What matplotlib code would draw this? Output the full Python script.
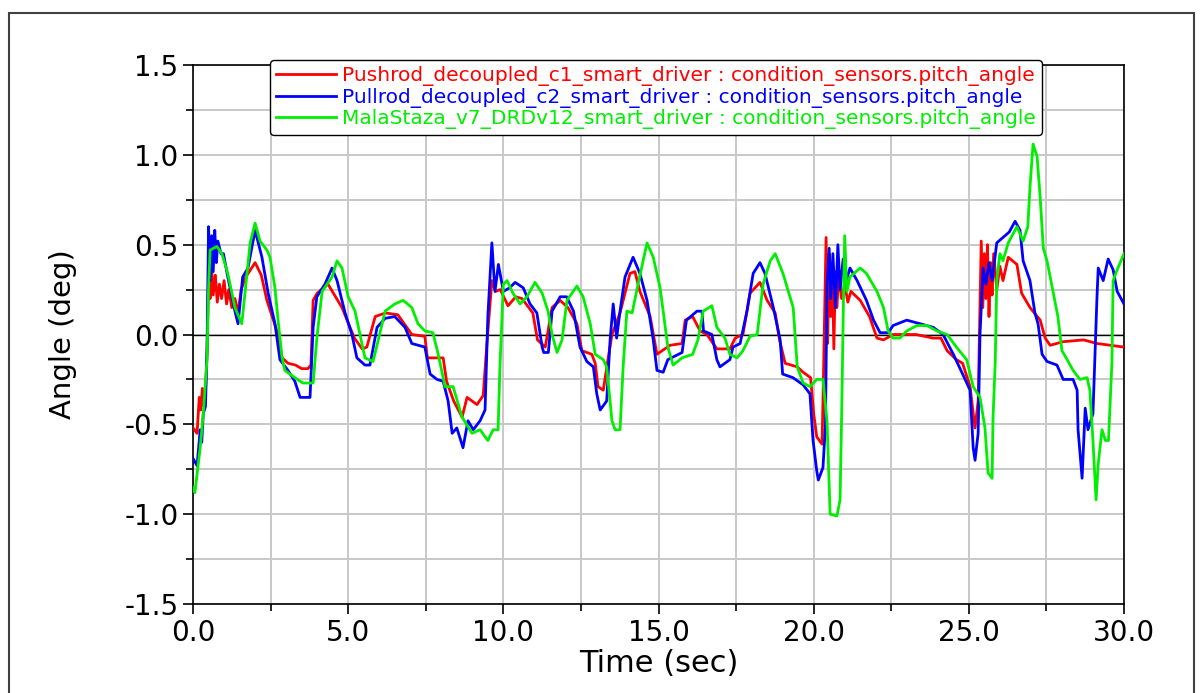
import numpy as np
import matplotlib
matplotlib.use('Agg')
import matplotlib.pyplot as plt
from matplotlib.patches import Rectangle
from matplotlib.ticker import MultipleLocator, FormatStrFormatter

plt.rcParams['font.family'] = ['DejaVu Sans']

# (time, angle)
red_pts = [(0, -0.52), (0.13, -0.55), (0.2, -0.35), (0.25, -0.42), (0.3, -0.3), (0.35, -0.4),
           (0.4, -0.32), (0.45, -0.1), (0.5, 0.3), (0.55, 0.2), (0.6, 0.37), (0.65, 0.22),
           (0.72, 0.33), (0.78, 0.18), (0.85, 0.28), (0.92, 0.2), (1.0, 0.3), (1.08, 0.17),
           (1.15, 0.25), (1.25, 0.15), (1.35, 0.2), (1.45, 0.12), (1.55, 0.25), (1.7, 0.32),
           (1.85, 0.36), (2.0, 0.40), (2.2, 0.33), (2.38, 0.19), (2.55, 0.1), (2.74, 0.0),
           (2.87, -0.13), (3.06, -0.16), (3.3, -0.17), (3.5, -0.19), (3.7, -0.19), (3.8, -0.17),
           (3.87, 0.19), (4.0, 0.23), (4.35, 0.28), (4.8, 0.15), (5.2, -0.02), (5.45, -0.08),
           (5.6, -0.07), (5.87, 0.1), (6.2, 0.12), (6.6, 0.11), (7.05, 0.0), (7.47, -0.01),
           (7.55, -0.13), (8.06, -0.13), (8.17, -0.26), (8.4, -0.37), (8.67, -0.46), (8.83, -0.35),
           (9.15, -0.39), (9.35, -0.34), (9.47, -0.05), (9.63, 0.30), (9.75, 0.24), (9.9, 0.25),
           (10.15, 0.16), (10.4, 0.21), (10.6, 0.2), (10.95, 0.12), (11.1, -0.03), (11.35, -0.07),
           (11.57, 0.15), (11.83, 0.19), (12.08, 0.15), (12.37, 0.06), (12.53, -0.09), (12.85, -0.11),
           (12.96, -0.16), (13.05, -0.29), (13.22, -0.31), (13.37, -0.14), (13.5, 0.0), (13.76, 0.12),
           (14.08, 0.34), (14.24, 0.35), (14.4, 0.24), (14.73, 0.1), (14.95, -0.11), (15.37, -0.06),
           (15.76, -0.05), (15.86, 0.08), (16.1, 0.10), (16.34, 0.02), (16.56, 0.0), (16.88, -0.08),
           (17.3, -0.08), (17.47, -0.02), (17.72, 0.0), (17.95, 0.23), (18.27, 0.29), (18.5, 0.19),
           (18.76, 0.12), (18.9, -0.03), (19.08, -0.16), (19.47, -0.18), (19.66, -0.21), (19.9, -0.24),
           (20.0, -0.44), (20.1, -0.57), (20.27, -0.61), (20.3, -0.37), (20.4, 0.54), (20.45, -0.05),
           (20.5, 0.45), (20.55, 0.1), (20.6, 0.4), (20.65, -0.08), (20.7, 0.35), (20.75, 0.15),
           (20.8, 0.33), (20.9, 0.2), (21.0, 0.28), (21.1, 0.18), (21.2, 0.24), (21.5, 0.19),
           (21.8, 0.1), (22.04, -0.02), (22.25, -0.03), (22.56, 0.0), (23.3, 0.0), (23.85, -0.02),
           (24.1, -0.02), (24.3, -0.09), (24.6, -0.14), (24.8, -0.16), (25.04, -0.29), (25.14, -0.44),
           (25.2, -0.52), (25.3, -0.37), (25.4, 0.52), (25.45, 0.15), (25.5, 0.45), (25.55, 0.2),
           (25.6, 0.5), (25.65, 0.1), (25.7, 0.4), (25.75, 0.22), (25.8, 0.45), (25.9, 0.25),
           (26.0, 0.38), (26.1, 0.3), (26.27, 0.43), (26.55, 0.39), (26.7, 0.23), (26.97, 0.15),
           (27.3, 0.08), (27.46, -0.02), (27.62, -0.06), (28.04, -0.04), (28.7, -0.03), (29.13, -0.05),
           (30.0, -0.07)]

blue_pts = [(0, -0.69), (0.13, -0.73), (0.23, -0.53), (0.28, -0.6), (0.33, -0.44), (0.4, -0.4),
            (0.45, -0.09), (0.5, 0.6), (0.55, 0.3), (0.6, 0.55), (0.65, 0.35), (0.7, 0.58),
            (0.75, 0.4), (0.8, 0.52), (0.9, 0.45), (0.98, 0.45), (1.12, 0.32), (1.35, 0.13),
            (1.45, 0.06), (1.6, 0.32), (1.77, 0.37), (2.0, 0.58), (2.22, 0.43), (2.42, 0.23),
            (2.64, 0.06), (2.8, -0.14), (3.06, -0.2), (3.28, -0.26), (3.45, -0.35), (3.77, -0.35),
            (3.87, 0.04), (3.99, 0.21), (4.25, 0.28), (4.48, 0.37), (4.64, 0.3), (4.9, 0.12),
            (5.12, 0.0), (5.28, -0.13), (5.54, -0.17), (5.7, -0.17), (5.93, 0.04), (6.19, 0.09),
            (6.5, 0.1), (6.83, 0.04), (7.05, -0.05), (7.47, -0.07), (7.64, -0.22), (7.86, -0.25),
            (8.06, -0.26), (8.22, -0.37), (8.35, -0.55), (8.5, -0.52), (8.7, -0.63), (8.86, -0.48),
            (9.03, -0.53), (9.25, -0.48), (9.41, -0.42), (9.5, 0.1), (9.63, 0.51), (9.73, 0.24),
            (9.84, 0.39), (10.0, 0.24), (10.2, 0.26), (10.38, 0.29), (10.64, 0.26), (10.86, 0.17),
            (11.08, 0.12), (11.25, -0.07), (11.3, -0.1), (11.45, -0.1), (11.57, 0.13), (11.83, 0.21),
            (12.04, 0.21), (12.26, 0.13), (12.47, -0.07), (12.69, -0.15), (12.9, -0.18), (13.01, -0.33),
            (13.12, -0.42), (13.33, -0.37), (13.44, -0.03), (13.54, 0.17), (13.65, -0.02), (13.76, 0.13),
            (13.92, 0.32), (14.18, 0.43), (14.4, 0.34), (14.63, 0.19), (14.83, -0.03), (14.95, -0.2),
            (15.15, -0.21), (15.3, -0.14), (15.53, -0.12), (15.76, -0.1), (15.9, 0.08), (16.24, 0.13),
            (16.4, 0.13), (16.45, 0.02), (16.72, 0.0), (16.88, -0.14), (16.98, -0.18), (17.3, -0.14),
            (17.4, -0.07), (17.63, -0.05), (17.85, 0.13), (18.05, 0.34), (18.27, 0.40), (18.43, 0.34),
            (18.7, 0.15), (18.92, -0.03), (19.0, -0.22), (19.33, -0.24), (19.66, -0.28), (19.88, -0.33),
            (19.98, -0.59), (20.1, -0.76), (20.15, -0.81), (20.3, -0.74), (20.38, -0.5), (20.43, 0.28),
            (20.5, 0.48), (20.55, 0.2), (20.62, 0.45), (20.7, 0.15), (20.78, 0.5), (20.85, 0.25),
            (20.95, 0.42), (21.05, 0.3), (21.17, 0.37), (21.4, 0.3), (21.7, 0.19), (21.93, 0.08),
            (22.14, 0.01), (22.4, 0.01), (22.56, 0.05), (23.0, 0.08), (23.43, 0.06), (23.85, 0.04),
            (24.17, 0.0), (24.5, -0.11), (24.8, -0.22), (25.04, -0.31), (25.14, -0.63), (25.2, -0.7),
            (25.3, -0.55), (25.36, 0.0), (25.46, 0.37), (25.55, 0.28), (25.65, 0.4), (25.75, 0.3),
            (25.9, 0.51), (26.1, 0.54), (26.3, 0.57), (26.49, 0.63), (26.65, 0.58), (26.75, 0.41),
            (26.97, 0.3), (27.13, 0.12), (27.23, 0.06), (27.36, -0.11), (27.52, -0.15), (27.84, -0.17),
            (28.04, -0.25), (28.36, -0.25), (28.49, -0.31), (28.52, -0.53), (28.65, -0.8), (28.75, -0.41),
            (28.84, -0.53), (29.0, -0.44), (29.13, 0.21), (29.17, 0.37), (29.33, 0.3), (29.49, 0.42),
            (29.65, 0.36), (29.78, 0.24), (30.0, 0.17)]

green_pts = [(0, -0.85), (0.06, -0.88), (0.23, -0.63), (0.33, -0.44), (0.45, -0.14), (0.5, 0.26),
             (0.55, 0.47), (0.77, 0.49), (0.93, 0.45), (1.12, 0.34), (1.35, 0.15), (1.57, 0.06),
             (1.68, 0.24), (1.84, 0.51), (2.0, 0.62), (2.16, 0.52), (2.38, 0.47), (2.48, 0.43),
             (2.64, 0.26), (2.74, 0.08), (2.87, -0.13), (2.96, -0.2), (3.28, -0.24), (3.54, -0.27),
             (3.87, -0.27), (3.99, -0.02), (4.16, 0.24), (4.48, 0.32), (4.64, 0.41), (4.8, 0.37),
             (5.0, 0.21), (5.22, 0.13), (5.38, 0.0), (5.54, -0.13), (5.8, -0.15), (5.97, -0.03),
             (6.19, 0.13), (6.5, 0.17), (6.77, 0.19), (7.05, 0.15), (7.25, 0.06), (7.47, 0.02),
             (7.73, 0.01), (7.9, -0.11), (8.12, -0.29), (8.38, -0.29), (8.67, -0.46), (8.99, -0.55),
             (9.25, -0.53), (9.5, -0.59), (9.67, -0.53), (9.83, -0.53), (9.89, -0.18), (10.0, 0.28),
             (10.12, 0.30), (10.31, 0.23), (10.54, 0.17), (10.76, 0.21), (11.02, 0.29), (11.25, 0.23),
             (11.44, 0.13), (11.57, 0.0), (11.73, -0.1), (11.89, -0.03), (12.05, 0.19), (12.37, 0.27),
             (12.57, 0.21), (12.8, 0.06), (12.96, -0.11), (13.22, -0.14), (13.33, -0.18), (13.5, -0.48),
             (13.6, -0.53), (13.76, -0.53), (13.86, -0.18), (13.98, 0.13), (14.15, 0.12), (14.34, 0.28),
             (14.63, 0.51), (14.83, 0.43), (15.05, 0.26), (15.15, 0.13), (15.3, -0.07), (15.47, -0.17),
             (15.76, -0.13), (16.1, -0.11), (16.27, -0.03), (16.44, 0.13), (16.72, 0.16), (16.88, 0.04),
             (17.14, -0.02), (17.3, -0.11), (17.53, -0.13), (17.72, -0.09), (17.95, -0.01), (18.18, 0.0),
             (18.37, 0.28), (18.6, 0.41), (18.76, 0.45), (19.01, 0.34), (19.34, 0.15), (19.47, -0.18),
             (19.66, -0.27), (19.88, -0.29), (20.1, -0.25), (20.3, -0.25), (20.43, -0.48), (20.53, -1.0),
             (20.75, -1.01), (20.85, -0.92), (20.9, -0.46), (20.96, 0.19), (21.0, 0.55), (21.07, 0.24),
             (21.17, 0.32), (21.5, 0.37), (21.7, 0.34), (22.04, 0.24), (22.25, 0.15), (22.4, 0.02),
             (22.56, -0.02), (22.78, -0.02), (23.0, 0.02), (23.33, 0.05), (23.65, 0.05), (23.97, 0.02),
             (24.3, 0.0), (24.6, -0.07), (24.93, -0.14), (25.14, -0.29), (25.36, -0.35), (25.52, -0.52),
             (25.62, -0.77), (25.75, -0.8), (25.78, -0.46), (25.85, -0.16), (25.9, 0.3), (26.0, 0.45),
             (26.1, 0.41), (26.27, 0.51), (26.55, 0.6), (26.75, 0.52), (26.9, 0.6), (26.97, 0.82),
             (27.07, 1.06), (27.2, 0.99), (27.3, 0.76), (27.4, 0.48), (27.52, 0.41), (27.71, 0.24),
             (27.87, 0.1), (28.0, -0.09), (28.17, -0.14), (28.36, -0.2), (28.58, -0.25), (28.81, -0.24),
             (28.9, -0.31), (29.0, -0.59), (29.1, -0.92), (29.17, -0.72), (29.29, -0.53), (29.4, -0.59),
             (29.5, -0.59), (29.61, -0.16), (29.65, 0.3), (29.78, 0.36), (30.0, 0.45)]

labels = ['Pushrod_decoupled_c1_smart_driver : condition_sensors.pitch_angle',
          'Pullrod_decoupled_c2_smart_driver : condition_sensors.pitch_angle',
          'MalaStaza_v7_DRDv12_smart_driver : condition_sensors.pitch_angle']
colors = ['#ff0000', '#0000ff', '#00ee00']

fig = plt.figure(figsize=(12.02, 6.93), dpi=100)
ax = fig.add_axes([0.1606, 0.1284, 0.7745, 0.7778])

# outer frame around the whole plot
fig.patches.append(Rectangle((9/1202, -0.05), 1185/1202, 1.05 - 13/693,
                             transform=fig.transFigure, fill=False,
                             edgecolor='#404040', linewidth=1.5))

for pts, c, lab in zip([red_pts, blue_pts, green_pts], colors, labels):
    t, y = zip(*pts)
    ax.plot(t, y, color=c, linewidth=2.0, label=lab, zorder=3)

ax.axhline(0, color='black', linewidth=1.0, zorder=2)

ax.set_xlim(0, 30)
ax.set_ylim(-1.5, 1.5)
ax.xaxis.set_major_locator(MultipleLocator(5))
ax.xaxis.set_minor_locator(MultipleLocator(2.5))
ax.yaxis.set_major_locator(MultipleLocator(0.5))
ax.yaxis.set_minor_locator(MultipleLocator(0.25))
ax.xaxis.set_major_formatter(FormatStrFormatter('%.1f'))
ax.yaxis.set_major_formatter(FormatStrFormatter('%.1f'))
ax.grid(which='both', color='#c8c8c8', linewidth=1.4, zorder=1)
ax.set_axisbelow(True)
ax.tick_params(which='both', direction='out', labelsize=20, color='black', width=1.2)
ax.tick_params(which='major', length=7)
ax.tick_params(which='minor', length=5)
for s in ax.spines.values():
    s.set_color('black')
    s.set_linewidth(1.2)

ax.set_xlabel('Time (sec)', fontsize=22)
ax.set_ylabel('Angle (deg)', fontsize=21)
ax.xaxis.set_label_coords(0.5, -0.083)
ax.yaxis.set_label_coords(-0.125, 0.5)

leg = ax.legend(loc='upper left', bbox_to_anchor=(270/1202, 1 - 60/693),
                bbox_transform=fig.transFigure, fontsize=14.5, frameon=True,
                fancybox=True, edgecolor='black', framealpha=1,
                handlelength=3.0, handletextpad=0.3, labelspacing=0.08,
                borderpad=0.3, borderaxespad=0)
leg.get_frame().set_linewidth(1.0)
for txt, c in zip(leg.get_texts(), colors):
    txt.set_color(c)

fig.savefig('out.png', dpi=100)
